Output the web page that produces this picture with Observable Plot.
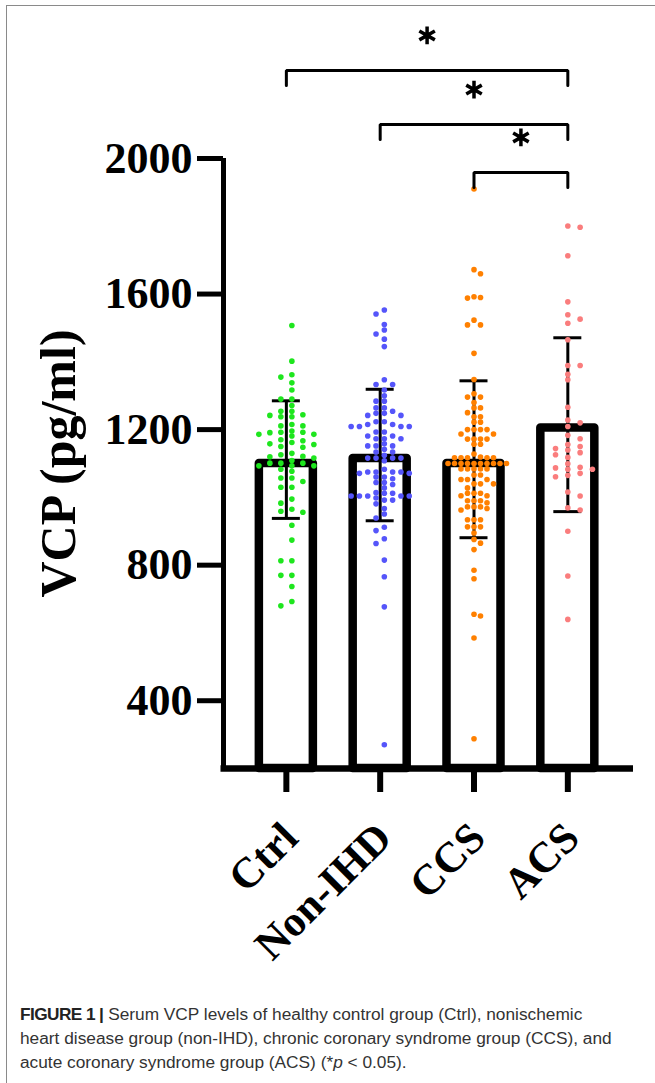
<!DOCTYPE html>
<html>
<head>
<meta charset="utf-8">
<script src="https://cdn.jsdelivr.net/npm/d3@7"></script>
<script src="https://cdn.jsdelivr.net/npm/@observablehq/plot@0.6"></script>
<style>
  html, body { margin: 0; padding: 0; background: #fff; }
  #fig { position: relative; width: 655px; height: 1083px; overflow: hidden; background: #fff; }
  #frame { position: absolute; left: 6px; top: 5px; width: 660px; height: 1100px;
           border-top: 1.5px solid #8a8a8a; border-left: 1.5px solid #8a8a8a; box-sizing: border-box; }
  #chart { position: absolute; left: 0; top: 0; }
  #caption { position: absolute; left: 20px; top: 1002px; width: 640px; white-space: nowrap;
             font-family: "Liberation Sans", Arial, sans-serif; font-size: 17.3px; line-height: 24px; color: #333; }
  #caption b { color: #222; letter-spacing: -0.6px; }
</style>
</head>
<body>
<div id="fig">
  <div id="frame"></div>
  <div id="chart"></div>
  <div id="caption"><b>FIGURE 1 |</b> Serum VCP levels of healthy control group (Ctrl), nonischemic<br>heart disease group (non-IHD), chronic coronary syndrome group (CCS), and<br>acute coronary syndrome group (ACS) (*<i>p</i> &lt; 0.05).</div>
</div>
<script>
// ---- data ----
const groups = ["Ctrl", "Non-IHD", "CCS", "ACS"];
const groupColors = ["#1ee61e", "#5555fa", "#ff8000", "#fa7d7d"];
const means  = [1100, 1115, 1100, 1205];
const errLow = [938, 931, 881, 958];
const errHigh = [1285, 1319, 1344, 1471];
const yTicks = [400, 800, 1200, 1600, 2000];
const yLabel = "VCP (pg/ml)";

const ctrlValues = [1507, 1402, 1362, 1355, 1338, 1317, 1290, 1290, 1271, 1254, 1254, 1244, 1242, 1238, 1238,
  1215, 1211, 1211, 1196, 1192, 1192, 1191, 1186, 1186, 1181, 1170, 1167, 1162, 1158, 1156, 1150, 1148,
  1130, 1126, 1121, 1120, 1116, 1109, 1101, 1101, 1101, 1093, 1093, 1093, 1083, 1077, 1057, 1057, 1047,
  1030, 1030, 995, 983, 965, 959, 956, 918, 874, 813, 813, 770, 770, 737, 693, 680];
const nonIhdValues = [1553, 1541, 1510, 1494, 1482, 1467, 1445, 1347, 1333, 1333, 1317, 1300, 1284, 1284,
  1264, 1264, 1254, 1248, 1248, 1242, 1242, 1223, 1223, 1215, 1215, 1209, 1209, 1209, 1209, 1193, 1193,
  1181, 1181, 1173, 1173, 1173, 1158, 1152, 1152, 1152, 1142, 1134, 1134, 1124, 1116, 1116, 1116, 1116,
  1108, 1083, 1075, 1075, 1075, 1075, 1071, 1071, 1060, 1060, 1055, 1044, 1044, 1038, 1028, 1014, 1012,
  1012, 1004, 1004, 1004, 1004, 1004, 998, 992, 992, 981, 967, 951, 939, 912, 902, 878, 864, 815, 766, 677, 270];
const ccsValues = [1910, 1672, 1660, 1592, 1590, 1588, 1523, 1509, 1509, 1425, 1348, 1306, 1296, 1296, 1280,
  1264, 1264, 1250, 1238, 1238, 1222, 1222, 1200, 1200, 1200, 1200, 1187, 1187, 1172, 1172, 1172, 1172,
  1157, 1157, 1128, 1119, 1117, 1117, 1117, 1117, 1117, 1100, 1100, 1100, 1100, 1100, 1100, 1100, 1100,
  1100, 1100, 1084, 1084, 1084, 1084, 1084, 1066, 1066, 1053, 1053, 1053, 1040, 1040, 1040, 1028, 1012,
  1012, 1012, 1005, 1005, 990, 990, 990, 984, 972, 972, 972, 967, 963, 934, 934, 934, 913, 913, 913, 895,
  876, 865, 846, 785, 760, 655, 650, 585, 288];
const acsValues = [1801, 1797, 1713, 1577, 1539, 1526, 1514, 1465, 1389, 1389, 1363, 1347, 1266, 1228, 1220,
  1209, 1183, 1173, 1156, 1150, 1144, 1140, 1132, 1126, 1118, 1099, 1089, 1087, 1083, 1083, 1071, 1065,
  1061, 1016, 1004, 969, 963, 900, 768, 640];
const groupValues = [ctrlValues, nonIhdValues, ccsValues, acsValues];

// significance brackets: compared groups and bracket level (pg/ml)
const bracketFrom = [0, 1, 2];
const bracketTo = [3, 3, 3];
const bracketLevel = [2260, 2100, 1959];

// ---- layout ----
const W = 655, H = 1002;
const mL = 223, mR = 22, mT = 158, mB = 234;
const xDom = [-0.67, 3.7], yDom = [200, 2000];
const pxX = (W - mL - mR) / (xDom[1] - xDom[0]);   // px per category unit
const pxY = (H - mT - mB) / (yDom[1] - yDom[0]);   // px per pg/ml

// scatter column layout (GraphPad-like): spacing in px, centred or half-offset columns
const colSpacing = [11, 8.3, 6.5, 12.3];
const colCentred = [false, false, true, true];
function swarm(vals, spacing, centred) {
  const order = vals.map((v, k) => k).sort((a, b) => vals[b] - vals[a]);
  const cands = [];
  for (let k = 0; k < 30; k++) {
    if (centred) { if (k === 0) cands.push(0); else cands.push(k, -k); }
    else cands.push(k + 0.5, -(k + 0.5));
  }
  const placed = [];
  const off = new Array(vals.length).fill(0);
  for (const k of order) {
    const y = vals[k] * pxY;
    for (const c of cands) {
      if (!placed.some(p => p.c === c && Math.abs(p.y - y) < 4.8)) {
        placed.push({c, y}); off[k] = c * spacing; break;
      }
    }
  }
  return off;
}

const points = [];
groupValues.forEach((vals, i) => {
  const off = swarm(vals, colSpacing[i], colCentred[i]);
  vals.forEach((v, k) => points.push({group: groups[i], x: i + off[k] / pxX, value: v}));
});
const stats = groups.map((g, i) => ({i, group: g, mean: means[i], lo: errLow[i], hi: errHigh[i]}));

const legPx = 15, starPx = 35;
const bracketPath = [];
const brackets = bracketFrom.map((f, k) => ({k, from: f, to: bracketTo[k], level: bracketLevel[k]}));
brackets.forEach(b => {
  const foot = b.level - legPx / pxY;
  bracketPath.push({k: b.k, x: b.from, y: foot}, {k: b.k, x: b.from, y: b.level},
                   {k: b.k, x: b.to, y: b.level}, {k: b.k, x: b.to, y: foot});
});

const barHalf = 27 / pxX, capHalf = 14 / pxX;
const tickLen = 24 / pxY;
const xLabels = groups.map((g, i) => ({i, g}));

const chart = Plot.plot({
  width: W, height: H,
  marginLeft: mL, marginRight: mR, marginTop: mT, marginBottom: mB,
  x: {domain: xDom, axis: null},
  y: {domain: yDom, axis: null},
  color: {domain: groups, range: groupColors},
  style: {fontFamily: "'Liberation Serif', 'Times New Roman', serif", fontWeight: "bold",
          background: "transparent", color: "black", overflow: "visible"},
  marks: [
    Plot.rect(stats, {x1: d => d.i - barHalf, x2: d => d.i + barHalf, y1: () => yDom[0], y2: "mean",
      fill: "white", stroke: "black", strokeWidth: 8.5, strokeLinejoin: "round"}),
    Plot.ruleX(stats, {x: "i", y1: "lo", y2: "hi", stroke: "black", strokeWidth: 3}),
    Plot.ruleY(stats, {y: "lo", x1: d => d.i - capHalf, x2: d => d.i + capHalf, stroke: "black", strokeWidth: 3}),
    Plot.ruleY(stats, {y: "hi", x1: d => d.i - capHalf, x2: d => d.i + capHalf, stroke: "black", strokeWidth: 3}),
    Plot.dot(points, {x: "x", y: "value", r: 2.8, fill: "group", stroke: "none"}),
    // axes
    Plot.ruleX([xDom[0]], {y1: yDom[0], y2: yDom[1], stroke: "black", strokeWidth: 5}),
    Plot.ruleY([yDom[0]], {x1: xDom[0] - 2.5 / pxX, x2: xDom[1], stroke: "black", strokeWidth: 6.5}),
    Plot.axisY({ticks: yTicks, tickFormat: d => String(d), tickSize: 26, tickPadding: 5, strokeWidth: 5,
      fontSize: 44, label: null}),
    Plot.ruleX(xLabels, {x: "i", y1: yDom[0] - tickLen, y2: yDom[0], stroke: "black", strokeWidth: 6}),
    Plot.text(xLabels, {x: "i", text: "g", frameAnchor: "bottom", dx: 4, dy: 62, rotate: -45,
      textAnchor: "end", lineAnchor: "middle", fontSize: 43, fontWeight: "bold"}),
    Plot.text([yLabel], {frameAnchor: "left", rotate: -90, dx: -165, textAnchor: "middle",
      fontSize: 50, fontWeight: "bold"}),
    // significance brackets
    Plot.line(bracketPath, {x: "x", y: "y", z: "k", stroke: "black", strokeWidth: 3, strokeLinejoin: "miter"}),
    Plot.dot(brackets, {x: d => (d.from + d.to) / 2, y: d => d.level + starPx / pxY,
      symbol: "asterisk", r: 8.5, stroke: "black", strokeWidth: 3.5})
  ]
});
document.getElementById("chart").appendChild(chart);
</script>
</body>
</html>
